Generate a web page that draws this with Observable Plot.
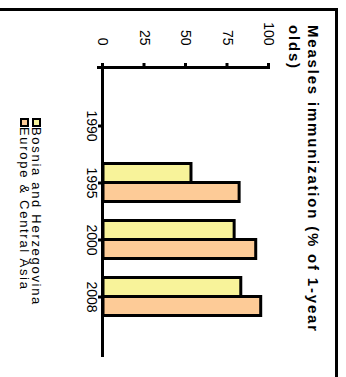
<!DOCTYPE html>
<html>
<head>
<meta charset="utf-8">
<script src="https://cdn.jsdelivr.net/npm/d3@7"></script>
<script src="https://cdn.jsdelivr.net/npm/@observablehq/plot@0.6"></script>
<style>
  html, body { margin: 0; padding: 0; background: #fff; overflow: hidden; }
  /* The figure is laid out upright, then turned a quarter turn clockwise. */
  #page {
    position: absolute; left: 0; top: 0; width: 377px; height: 346px;
    transform-origin: 0 0; transform: translate(346px, 0) rotate(90deg);
    background: #fff; font-family: "Liberation Sans", Arial, sans-serif; color: #000;
  }
  #border { position: absolute; left: 8px; top: 8px; width: 420px; height: 420px;
    border-left: 3px solid #000; border-top: 3px solid #000; }
  #chart { position: absolute; left: 0; top: 0; }
  #title { position: absolute; left: 25px; top: 23px; font-weight: bold; font-size: 15px;
    letter-spacing: 1.8px; line-height: 19px; white-space: nowrap; }
  .item { position: absolute; left: 118px; font-size: 13px; letter-spacing: 1.7px;
    line-height: 12px; white-space: nowrap; }
  .swatch { display: inline-block; width: 5px; height: 5px; border: 2px solid #000;
    margin-right: 0px; vertical-align: 0px; }
</style>
</head>
<body>
<div id="page">
  <div id="border"></div>
  <div id="chart"></div>
  <div id="title"></div>
  <div id="legend"></div>
</div>
<script>
// Measles immunization, % of children aged 12-23 months
const years = ["1990", "1995", "2000", "2008"];
const bosnia = [null, 53, 79, 83];
const europe = [null, 82, 92, 95];
const seriesNames = ["Bosnia and Herzegovina", "Europe & Central Asia"];
const seriesColors = ["#f8f39a", "#fdcb97"];
const valueTicks = [0, 25, 50, 75, 100];
const titleLines = ["Measles immunization (% of 1-year", "olds)"];

const rows = (vals) => years.map((year, i) => ({year, value: vals[i]}));

const chart = Plot.plot({
  width: 377,
  height: 346,
  marginLeft: 67,
  marginRight: 22,
  marginTop: 77,
  marginBottom: 103,
  style: {fontFamily: "Liberation Sans, Arial, sans-serif", fontSize: "14px", color: "#000", background: "transparent", overflow: "visible"},
  x: {type: "band", domain: years, paddingInner: 0.6701, paddingOuter: 0.835, axis: null},
  y: {domain: [0, 100], axis: null},
  marks: [
    Plot.barY(rows(bosnia), {x: "year", y: "value", fill: seriesColors[0], stroke: "#000", strokeWidth: 3, dx: -9.5}),
    Plot.barY(rows(europe), {x: "year", y: "value", fill: seriesColors[1], stroke: "#000", strokeWidth: 3, dx: 9.5}),
    Plot.frame({anchor: "bottom", stroke: "#000", strokeWidth: 3, strokeLinecap: "square"}),
    Plot.frame({anchor: "left", stroke: "#000", strokeWidth: 3, strokeLinecap: "square", insetBottom: -4}),
    Plot.axisY({ticks: valueTicks, tickSize: 4, tickPadding: 18, strokeWidth: 3, label: null, tickFormat: (d) => String(d)}),
    Plot.axisX({tickSize: 5, tickPadding: 1, strokeWidth: 3, label: null})
  ]
});
document.getElementById("chart").appendChild(chart);

const title = document.getElementById("title");
titleLines.forEach((t, i) => {
  if (i) title.appendChild(document.createElement("br"));
  title.appendChild(document.createTextNode(t));
});

const legend = document.getElementById("legend");
seriesNames.forEach((name, i) => {
  const item = document.createElement("div");
  item.className = "item";
  item.style.top = (303.5 + 12 * i) + "px";
  const sw = document.createElement("span");
  sw.className = "swatch";
  sw.style.background = seriesColors[i];
  item.appendChild(sw);
  item.appendChild(document.createTextNode(name));
  legend.appendChild(item);
});
</script>
</body>
</html>
